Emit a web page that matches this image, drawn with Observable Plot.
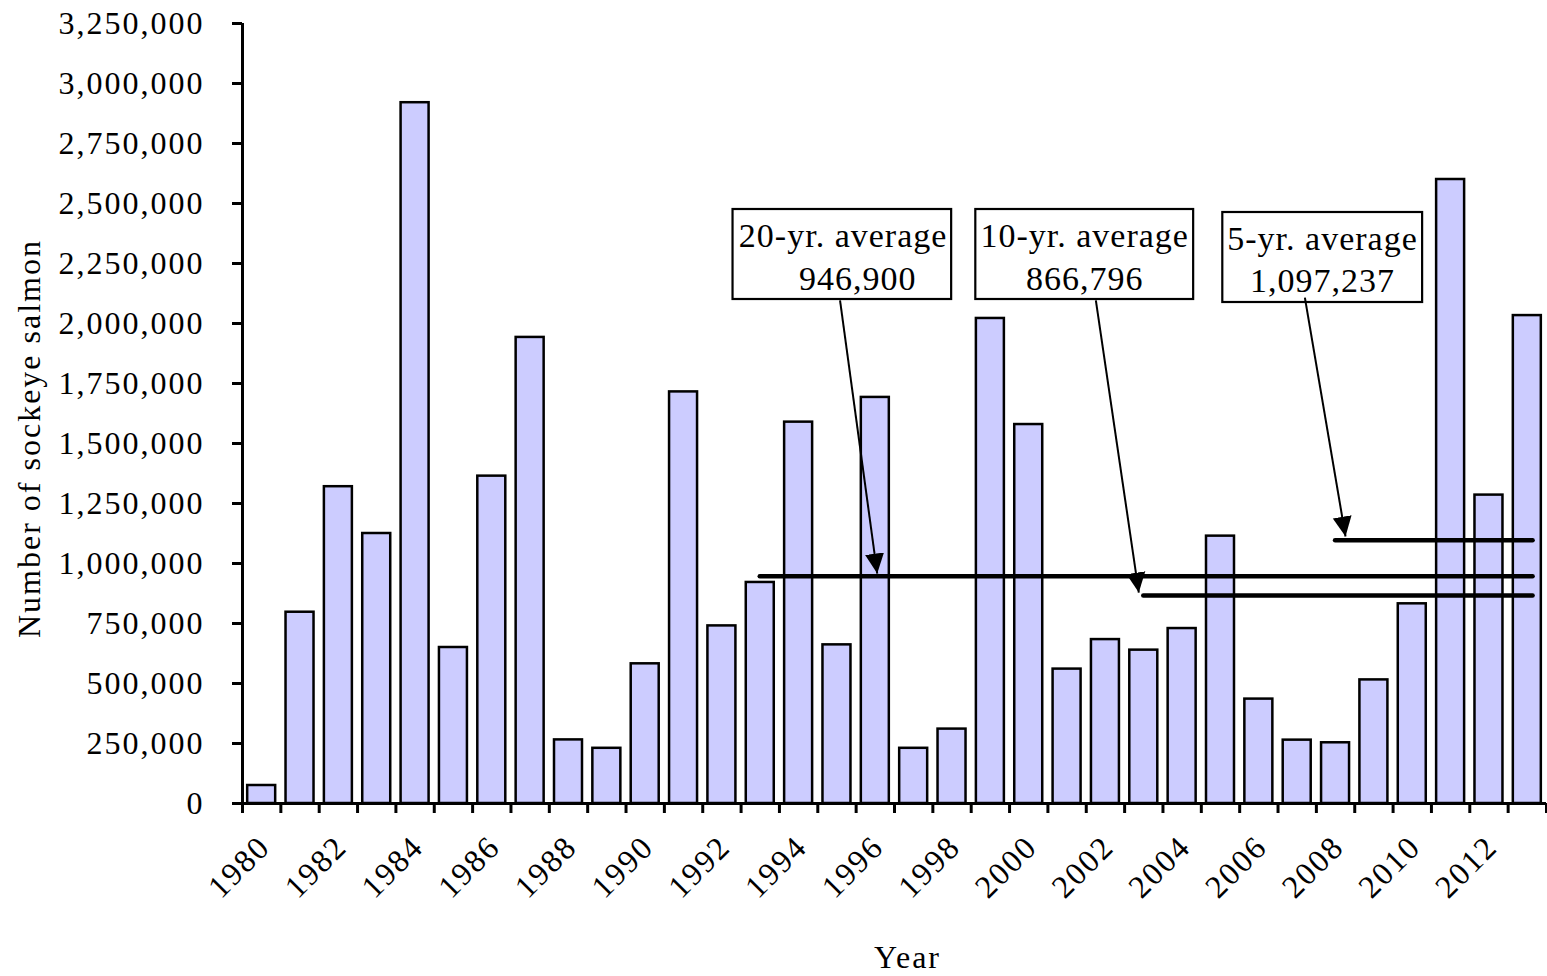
<!DOCTYPE html>
<html>
<head>
<meta charset="utf-8">
<script src="https://cdn.jsdelivr.net/npm/d3@7"></script>
<script src="https://cdn.jsdelivr.net/npm/@observablehq/plot@0.6"></script>
<style>
  html, body { margin: 0; padding: 0; background: white; }
  svg g.callout text, svg g[aria-label="callout"] text { letter-spacing: 1px !important; }
</style>
</head>
<body>
<div id="chart"></div>
<script>
// ---- Data ----
const years = [1980, 1981, 1982, 1983, 1984, 1985, 1986, 1987, 1988, 1989,
               1990, 1991, 1992, 1993, 1994, 1995, 1996, 1997, 1998, 1999,
               2000, 2001, 2002, 2003, 2004, 2005, 2006, 2007, 2008, 2009,
               2010, 2011, 2012, 2013];
const sockeye = [75000, 797000, 1320000, 1125000, 2920000, 650000, 1364000, 1942000, 265000, 230000,
                 582000, 1715000, 740000, 921000, 1589000, 661000, 1692000, 230000, 310000, 2021000,
                 1579000, 560000, 683000, 639000, 729000, 1114000, 435000, 264000, 253000, 515000,
                 832000, 2600000, 1285000, 2033000];

const avgLabels = ["20-yr. average", "10-yr. average", "5-yr. average"];
const avgValues = [946900, 866796, 1097237];
const avgStartYears = [1993, 2003, 2008];

const yTicks = [0, 250000, 500000, 750000, 1000000, 1250000, 1500000, 1750000,
                2000000, 2250000, 2500000, 2750000, 3000000, 3250000];
const xTickYears = [1980, 1982, 1984, 1986, 1988, 1990, 1992, 1994, 1996, 1998,
                    2000, 2002, 2004, 2006, 2008, 2010, 2012];

const xLabel = "Year";
const yLabel = "Number of sockeye salmon";

// Annotation callouts (data-space anchors for box, text and arrow)
const callouts = [
  {x1: 1992.29, x2: 1997.99, y1: 2100000, y2: 2475000, tx1: 1995.16, tx2: 1995.54, ty1: 2362500, ty2: 2183000,
   ax1: 1995.08, ay1: 2096000, ax2: 1996.05, ay2: 958000},
  {x1: 1998.62, x2: 2004.30, y1: 2100000, y2: 2475000, tx1: 2001.46, tx2: 2001.46, ty1: 2362500, ty2: 2183000,
   ax1: 2001.75, ay1: 2096000, ax2: 2002.87, ay2: 879000},
  {x1: 2005.06, x2: 2010.27, y1: 2087500, y2: 2462500, tx1: 2007.66, tx2: 2007.66, ty1: 2350000, ty2: 2175000,
   ax1: 2007.20, ay1: 2108000, ax2: 2008.26, ay2: 1112500}
];

// ---- Derived tables ----
const fmt = d3.format(",");
const bars = years.map((year, i) => ({year, value: sockeye[i]}));
const avgs = avgLabels.map((label, i) => ({
  label, value: avgValues[i], start: avgStartYears[i],
  line2: fmt(avgValues[i]), ...callouts[i]
}));
const boundaries = [years[0] - 0.5, ...years.map(y => y + 0.5)];
const lastYear = years[years.length - 1];

function arrowHead(color) {
  const ns = "http://www.w3.org/2000/svg";
  const m = document.createElementNS(ns, "marker");
  m.setAttribute("viewBox", "-20 -10 20 20");
  m.setAttribute("markerWidth", "20");
  m.setAttribute("markerHeight", "20");
  m.setAttribute("refX", "0");
  m.setAttribute("refY", "0");
  m.setAttribute("orient", "auto");
  m.setAttribute("markerUnits", "userSpaceOnUse");
  const p = document.createElementNS(ns, "path");
  p.setAttribute("d", "M-20,-9.5L0,0L-20,9.5Z");
  p.setAttribute("fill", color || "black");
  p.setAttribute("stroke", "none");
  m.appendChild(p);
  return m;
}

function tightText(index, scales, values, dims, context, next) {
  const g = next(index, scales, values, dims, context);
  if (g) {
    g.setAttribute("letter-spacing", "1px");
    g.style.letterSpacing = "1px";
    g.querySelectorAll("text").forEach(t => t.style.letterSpacing = "1px");
  }
  return g;
}

function build(marker) {
  return Plot.plot({
    width: 1547,
    height: 976,
    marginLeft: 242,
    marginRight: 1,
    marginTop: 23,
    marginBottom: 173,
    style: "font-family: 'Liberation Serif', 'Times New Roman', serif; font-size: 32px; letter-spacing: 2px; color: black; background: white; overflow: visible;",
    x: {domain: [years[0] - 0.5, lastYear + 0.5]},
    y: {domain: [0, yTicks[yTicks.length - 1]]},
    marks: [
      Plot.rectY(bars, {
        x1: d => d.year - 0.365, x2: d => d.year + 0.365, y: "value",
        fill: "#ccccff", stroke: "black", strokeWidth: 2.5
      }),
      Plot.ruleY(avgs, {
        y: "value", x1: "start", x2: lastYear + 0.15,
        stroke: "black", strokeWidth: 4.5, strokeLinecap: "round"
      }),
      Plot.rect(avgs, {
        x1: "x1", x2: "x2", y1: "y1", y2: "y2",
        fill: "white", stroke: "black", strokeWidth: 2.2
      }),
      Plot.text(avgs, {
        x: "tx1", y: "ty1", text: "label", fontSize: 34, ariaLabel: "callout", className: "callout",
        textAnchor: "middle", lineAnchor: "middle", render: tightText
      }),
      Plot.text(avgs, {
        x: "tx2", y: "ty2", text: "line2", fontSize: 34, ariaLabel: "callout", className: "callout",
        textAnchor: "middle", lineAnchor: "middle", render: tightText
      }),
      Plot.link(avgs, {
        x1: "ax1", y1: "ay1", x2: "ax2", y2: "ay2",
        stroke: "black", strokeWidth: 2, markerEnd: marker
      }),
      Plot.ruleX([years[0] - 0.5], {stroke: "black", strokeWidth: 3}),
      Plot.ruleY([0], {stroke: "black", strokeWidth: 3}),
      Plot.axisY({
        ticks: yTicks, tickFormat: fmt, tickSize: 10, tickPadding: 28,
        strokeWidth: 3, label: null
      }),
      Plot.axisX({
        ticks: boundaries, tickFormat: () => "", tickSize: 10,
        strokeWidth: 3, label: null
      }),
      Plot.axisX({
        ticks: xTickYears, tickFormat: d => String(d), tickSize: 0,
        tickRotate: -45, tickPadding: 38, dx: 3, label: null
      }),
      Plot.text([xLabel], {
        frameAnchor: "bottom", dx: 13, dy: 154, lineAnchor: "middle", textAnchor: "middle"
      }),
      Plot.text([yLabel], {
        frameAnchor: "left", rotate: -90, dx: -213, dy: 25,
        lineAnchor: "middle", textAnchor: "middle"
      })
    ]
  });
}

let chart;
try {
  chart = build(arrowHead);
} catch (e) {
  chart = build("arrow");
}
document.getElementById("chart").appendChild(chart);
// Ensure callout text uses tighter tracking than the axis labels.
d3.select(chart).selectAll("text")
  .filter(function () {
    const s = this.textContent;
    return avgLabels.includes(s) || avgValues.map(fmt).includes(s);
  })
  .style("letter-spacing", "1px");
</script>
</body>
</html>
